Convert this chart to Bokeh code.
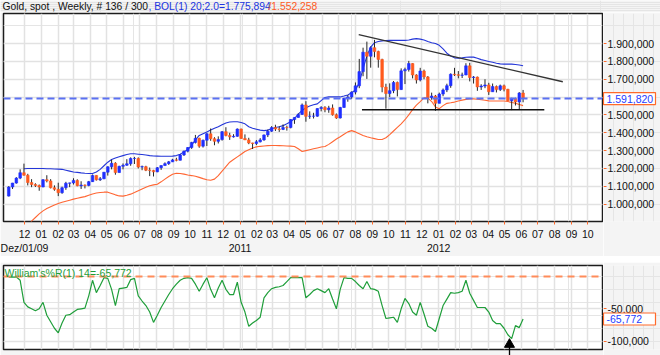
import numpy as np
import pandas as pd
from bokeh.plotting import figure
from bokeh.models import (ColumnDataSource, Range1d, LinearAxis, FixedTicker, Grid,
                          Label, Span)
from bokeh.layouts import column, row
from bokeh.core.properties import value
from bokeh.embed import file_html
from bokeh.resources import INLINE

# ---------------- data ----------------
first_week = "2009-11-02"

opens = [1045, 1096, 1118, 1146, 1176, 1162, 1121, 1110, 1104, 1096,
         1137, 1130, 1092, 1083, 1064, 1092, 1117, 1119, 1133, 1103,
         1107, 1105, 1126, 1161, 1136, 1142, 1179, 1209, 1229, 1177,
         1212, 1218, 1226, 1256, 1256, 1208, 1210, 1190, 1189, 1181,
         1204, 1216, 1227, 1237, 1248, 1246, 1276, 1297, 1317, 1346,
         1369, 1325, 1358, 1394, 1367, 1352, 1362, 1406, 1385, 1377,
         1380, 1421, 1368, 1360, 1343, 1340, 1349, 1360, 1388, 1409,
         1429, 1421, 1419, 1430, 1429, 1474, 1486, 1503, 1556, 1492,
         1493, 1493, 1536, 1542, 1529, 1539, 1501, 1483, 1542, 1594,
         1601, 1628, 1663, 1743, 1852, 1829, 1877, 1856, 1811, 1656,
         1620, 1636, 1682, 1642, 1747, 1755, 1788, 1724, 1696, 1746,
         1713, 1597, 1606, 1565, 1617, 1640, 1664, 1728, 1725, 1722,
         1724, 1775, 1710, 1712, 1657, 1662, 1668, 1630, 1659, 1642,
         1663, 1644, 1579, 1592, 1573, 1623]
highs = [1101, 1119, 1151, 1195, 1227, 1170, 1140, 1117, 1110, 1140,
         1162, 1140, 1105, 1120, 1098, 1125, 1120, 1145, 1139, 1128,
         1110, 1130, 1166, 1162, 1152, 1180, 1212, 1249, 1235, 1215,
         1228, 1252, 1262, 1265, 1262, 1216, 1215, 1205, 1192, 1208,
         1217, 1234, 1242, 1254, 1260, 1280, 1300, 1320, 1349, 1388,
         1372, 1362, 1398, 1424, 1375, 1380, 1410, 1431, 1400, 1392,
         1424, 1423, 1391, 1372, 1344, 1359, 1370, 1390, 1418, 1437,
         1445, 1436, 1447, 1440, 1476, 1487, 1508, 1564, 1577, 1520,
         1512, 1537, 1549, 1549, 1551, 1559, 1508, 1545, 1595, 1611,
         1632, 1682, 1814, 1877, 1911, 1884, 1921, 1860, 1815, 1675,
         1677, 1690, 1687, 1761, 1765, 1803, 1790, 1728, 1764, 1754,
         1718, 1625, 1612, 1625, 1648, 1675, 1733, 1764, 1746, 1737,
         1790, 1792, 1718, 1715, 1672, 1700, 1680, 1676, 1665, 1670,
         1670, 1646, 1596, 1596, 1628, 1640]
lows = [1043, 1085, 1115, 1140, 1160, 1105, 1095, 1096, 1075, 1095,
        1122, 1088, 1075, 1045, 1058, 1080, 1095, 1110, 1100, 1085,
        1088, 1100, 1124, 1132, 1130, 1140, 1160, 1195, 1165, 1176,
        1195, 1215, 1215, 1225, 1200, 1190, 1185, 1157, 1155, 1179,
        1192, 1215, 1220, 1236, 1240, 1245, 1270, 1290, 1310, 1340,
        1316, 1317, 1326, 1355, 1330, 1340, 1356, 1380, 1360, 1373,
        1378, 1366, 1360, 1336, 1309, 1331, 1346, 1355, 1376, 1405,
        1410, 1405, 1415, 1412, 1425, 1450, 1485, 1500, 1462, 1478,
        1480, 1490, 1520, 1515, 1512, 1496, 1478, 1480, 1540, 1574,
        1590, 1615, 1650, 1717, 1702, 1765, 1823, 1765, 1627, 1535,
        1600, 1622, 1604, 1640, 1673, 1743, 1705, 1676, 1688, 1700,
        1565, 1585, 1523, 1565, 1605, 1628, 1652, 1718, 1705, 1707,
        1723, 1688, 1676, 1635, 1640, 1650, 1612, 1630, 1626, 1634,
        1632, 1578, 1527, 1553, 1532, 1571]
closes = [1096, 1118, 1146, 1176, 1162, 1121, 1110, 1104, 1096, 1137,
          1130, 1092, 1083, 1064, 1092, 1117, 1119, 1133, 1103, 1107,
          1105, 1126, 1161, 1136, 1142, 1179, 1209, 1229, 1177, 1212,
          1218, 1226, 1256, 1256, 1208, 1210, 1190, 1189, 1181, 1204,
          1216, 1227, 1237, 1248, 1246, 1276, 1297, 1317, 1346, 1369,
          1325, 1358, 1394, 1367, 1352, 1362, 1406, 1385, 1377, 1380,
          1421, 1368, 1360, 1343, 1340, 1349, 1360, 1388, 1409, 1429,
          1421, 1419, 1430, 1429, 1474, 1486, 1503, 1556, 1492, 1493,
          1493, 1536, 1542, 1529, 1539, 1501, 1483, 1542, 1594, 1601,
          1628, 1663, 1743, 1852, 1829, 1877, 1856, 1811, 1656, 1620,
          1636, 1682, 1642, 1747, 1755, 1788, 1724, 1696, 1746, 1713,
          1597, 1606, 1565, 1617, 1640, 1664, 1728, 1725, 1722, 1724,
          1775, 1710, 1712, 1657, 1662, 1668, 1630, 1659, 1642, 1663,
          1644, 1579, 1592, 1573, 1623, 1591.82]

nan = float("nan")
boll_upper = [nan, nan, nan, nan, 1198, 1200, 1200, 1200, 1200, 1200,
              1198, 1198, 1197, 1196, 1195, 1190, 1185, 1180, 1178, 1175,
              1173, 1172, 1172, 1180, 1195, 1215, 1235, 1250, 1258, 1265,
              1272, 1278, 1282, 1282, 1280, 1278, 1275, 1272, 1270, 1269,
              1268, 1268, 1268, 1269, 1272, 1280, 1293, 1306, 1330, 1360,
              1385, 1395, 1405, 1415, 1425, 1434, 1445, 1455, 1460, 1462,
              1462, 1458, 1450, 1434, 1425, 1420, 1415, 1412, 1415, 1422,
              1430, 1434, 1440, 1450, 1462, 1480, 1505, 1525, 1540, 1550,
              1557, 1562, 1580, 1598, 1601, 1601, 1601, 1601, 1606, 1612,
              1625, 1640, 1680, 1760, 1830, 1880, 1905, 1912, 1915, 1917,
              1918, 1918, 1918, 1918, 1918, 1920, 1925, 1928, 1925, 1920,
              1912, 1905, 1900, 1890, 1870, 1846, 1830, 1820, 1818, 1820,
              1823, 1824, 1824, 1818, 1810, 1805, 1800, 1795, 1790, 1786,
              1785, 1785, 1785, 1783, 1780, 1775.894]
boll_lower = [nan, nan, nan, nan, nan, 860, 905, 925, 945, 962,
              975, 985, 995, 1003, 1010, 1016, 1022, 1028, 1033, 1038,
              1042, 1050, 1057, 1062, 1065, 1067, 1067, 1060, 1052, 1046,
              1045, 1050, 1056, 1065, 1075, 1085, 1095, 1103, 1108, 1111,
              1125, 1140, 1155, 1167, 1173, 1172, 1168, 1163, 1160, 1156,
              1150, 1143, 1137, 1134, 1140, 1160, 1185, 1210, 1235, 1250,
              1265, 1280, 1295, 1305, 1315, 1321, 1324, 1326, 1328, 1329,
              1329, 1328, 1327, 1326, 1325, 1323, 1310, 1295, 1300, 1305,
              1310, 1315, 1320, 1323, 1335, 1350, 1365, 1378, 1392, 1405,
              1412, 1405, 1395, 1385, 1378, 1372, 1367, 1362, 1362, 1372,
              1390, 1410, 1430, 1450, 1473, 1500, 1530, 1555, 1575, 1596,
              1596, 1575, 1545, 1535, 1552, 1565, 1568, 1572, 1578, 1583,
              1587, 1590, 1590, 1588, 1585, 1582, 1579, 1578, 1578, 1578,
              1578, 1575, 1570, 1565, 1558, 1552.258]
williams_r = [-1, -1, -1, -6, -40, -47, -50, -53, -50, -40,
              -60, -70, -80, -87, -72, -60, -59, -55, -51, -50,
              -49, -30, -6, -25, -14, -2, -3, -20, -45, -19,
              -18, -17, -5, -3, -30, -38, -45, -55, -71, -60,
              -48, -38, -28, -19, -12, -6, -3, -2, -3, -12,
              -23, -12, -2, -20, -33, -18, -6, -20, -28, -28,
              -9, -40, -55, -77, -72, -68, -63, -33, -25, -19,
              -17, -16, -14, -8, -2, -2, -2, -2, -33, -28,
              -22, -19, -22, -25, -19, -35, -50, -20, -2, -3,
              -3, -8, -14, -19, -8, -19, -20, -23, -45, -65,
              -64, -63, -71, -50, -34, -42, -55, -60, -40, -58,
              -77, -80, -85, -65, -45, -35, -25, -26, -25, -23,
              -6, -26, -37, -48, -48, -48, -55, -68, -73, -73,
              -80, -90, -96, -76, -79, -65.772]

last_price = 1591.82
last_price_text = "1.591,820"
last_wr = -65.772
last_wr_text = "-65,772"
wr_level = 0

trend_dates = ["2011-08-07", "2012-08-16"]
trend_prices = [1950, 1686]
support_dates = ["2011-08-13", "2012-07-13"]
support_prices = [1529, 1529]
arrow_date = "2012-05-10"
arrow_level = -105

price_ticks = [1000, 1100, 1200, 1300, 1400, 1500, 1600, 1700, 1800, 1900]
price_tick_labels = ["1.000,000", "1.100,000", "1.200,000", "1.300,000", "1.400,000",
                     "1.500,000", "1.600,000", "1.700,000", "1.800,000", "1.900,000"]
wr_ticks = [-50, -100]
wr_tick_labels = ["-50,000", "-100,000"]
month_labels = ["12", "01", "02", "03", "04", "05", "06", "07", "08", "09", "10", "11",
                "12", "01", "02", "03", "04", "05", "06", "07", "08", "09", "10", "11",
                "12", "01", "02", "03", "04", "05", "06", "07", "08", "09", "10"]
year_tick_dates = ["2009-12-01", "2011-01-01", "2012-01-01"]
year_labels = ["Dez/01/09", "2011", "2012"]

header_texts = ["Gold, spot , Weekly, # 136 / 300", ", BOL(1) 20;2.0=1.775,894", "/1.552,258"]
wr_title = "William's%R(1) 14=-65,772"

# ---------------- styling ----------------
FONT = "Liberation Sans"
FS = "10.5px"
BG = "#f4f4f4"
GRID = "#e2e2e2"
ORANGE = "#ff6a2a"
UP = "#1f2fff"
DOWN = "#ff5a1e"
WICK = "#262626"
VALBLUE = "#1f3cff"

W = 660
WL = 603           # width of the plotting part (frame 3..602)
WR = W - WL        # right-hand label strip
HH = 12            # header strip
H1, HS, H2 = 244, 6, 93
TOP1, BOT1 = 1, 34
TOP2, BOT2 = 3, 6

ref = pd.Timestamp("2009-12-01")


def dx(d):
    return int((pd.Timestamp(d) - ref).days)


weeks = pd.date_range(first_week, periods=len(closes), freq="7D")
xw = np.array([(w - ref).days for w in weeks], dtype=float)
month_dates = pd.date_range("2009-12-01", periods=len(month_labels), freq="MS")
mt = [dx(d) for d in month_dates]
yt = [dx(d) for d in year_tick_dates]

X0, X1 = -38.6, 1061.9
x_range = Range1d(X0, X1)
Y0, Y1 = 902.6, 2068.6

o = np.array(opens, float)
c = np.array(closes, float)
src = ColumnDataSource(dict(
    x=xw, h=highs, l=lows,
    top=np.maximum(o, c), bottom=np.minimum(o, c),
    color=[UP if cc >= oo else DOWN for oo, cc in zip(o, c)],
))

base = dict(toolbar_location=None, output_backend="svg", title=None,
            x_axis_location=None, y_axis_location=None)
common = dict(base, background_fill_color="white", border_fill_color=BG,
              outline_line_color="#1c1c1c", outline_line_width=1.5,
              min_border_left=3, min_border_right=1)
strip = dict(base, background_fill_color=BG, border_fill_color=BG, outline_line_color=None,
             min_border_left=0, min_border_right=0)


def style_axis(ax, tick=True, out=3, standoff=2):
    ax.axis_line_color = None
    ax.minor_tick_line_color = None
    ax.major_tick_line_color = ORANGE if tick else None
    ax.major_tick_out = out if tick else 0
    ax.major_tick_in = 0
    ax.major_label_standoff = standoff
    ax.major_label_text_font = FONT
    ax.major_label_text_font_size = FS
    ax.major_label_text_color = "#111111"


# ---------------- header ----------------
h = figure(width=W, height=HH, x_range=Range1d(0, W), y_range=Range1d(HH, 0),
           min_border_top=0, min_border_bottom=0, **strip)
h.text(x=[2, 148, 268], y=[6, 6, 6], text=header_texts,
       text_color=["#111111", "#2033e0", "#ff5a1e"],
       text_font=value(FONT), text_font_size=value("10.3px"), text_baseline="middle")

# ---------------- main price panel ----------------
p = figure(width=WL, height=H1, x_range=x_range, y_range=Range1d(Y0, Y1),
           min_border_top=TOP1, min_border_bottom=BOT1, **common)

p.add_layout(Grid(dimension=0, ticker=FixedTicker(ticks=mt), grid_line_color=GRID, grid_line_width=1.5))
p.add_layout(Grid(dimension=1, ticker=FixedTicker(ticks=price_ticks), grid_line_color=GRID, grid_line_width=1.5))

xa = LinearAxis(ticker=FixedTicker(ticks=mt), major_label_overrides=dict(zip(mt, month_labels)))
style_axis(xa, True, 3, 5)
p.add_layout(xa, "below")
xa2 = LinearAxis(ticker=FixedTicker(ticks=yt), major_label_overrides=dict(zip(yt, year_labels)))
style_axis(xa2, False, 0, 1)
p.add_layout(xa2, "below")

p.add_layout(Span(location=last_price, dimension="width", line_color="#5a70f2",
                  line_dash="7 4", line_width=2))

p.line(xw, boll_upper, line_color="#2436d8", line_width=1.1)
p.line(xw, boll_lower, line_color="#ff6633", line_width=1.1)

p.segment("x", "l", "x", "h", source=src, line_color=WICK, line_width=1)
p.vbar(x="x", width=4.8, top="top", bottom="bottom", fill_color="color",
       line_color="color", line_width=0.6, source=src)

p.line([dx(d) for d in trend_dates], trend_prices, line_color="#333333", line_width=1.3)
p.line([dx(d) for d in support_dates], support_prices, line_color="#111111", line_width=1.5)

# right strip: price axis + current value box (same y scale)
pr = figure(width=WR, height=H1, x_range=Range1d(0, WR), y_range=p.y_range,
            min_border_top=TOP1, min_border_bottom=BOT1, **strip)
yax = LinearAxis(ticker=FixedTicker(ticks=price_ticks),
                 major_label_overrides=dict(zip(price_ticks, price_tick_labels)),
                 fixed_location=0)
style_axis(yax, True, 3, 1)
pr.add_layout(yax, "right")
r1 = pr.rect(x=[26], y=[last_price], width=[52], height=[12], height_units="screen",
             fill_color="white", line_color=ORANGE, line_width=1.2)
r2 = pr.text(x=[3], y=[last_price], text=[last_price_text], text_color=VALBLUE,
             text_font=value(FONT), text_font_size=value(FS), text_baseline="middle")
r1.level = "overlay"
r2.level = "overlay"

# ---------------- separator ----------------
sep = figure(width=W, height=HS, x_range=Range1d(0, W), y_range=Range1d(0, 1),
             min_border_top=0, min_border_bottom=0, **strip)
sep.quad(left=0, right=W, bottom=0, top=1, fill_color="#ebebeb", line_color=None,
         hatch_pattern="dot", hatch_color="#bcbcbc", hatch_scale=3)
sep.scatter(x=[15], y=[0.5], marker="triangle", size=6, fill_color="#d6d6d6", line_color="#8c8c8c")
sep.scatter(x=[29], y=[0.55], marker="inverted_triangle", size=6, fill_color="#6a6a6a", line_color="#6a6a6a")
sep.scatter(x=[648], y=[0.5], marker="square_x", size=6, fill_color="#d0d0d0", line_color="#777777")

# ---------------- Williams %R panel ----------------
p2 = figure(width=WL, height=H2, x_range=x_range, y_range=Range1d(-112.8, 16.8),
            min_border_top=TOP2, min_border_bottom=BOT2, **common)
p2.add_layout(Grid(dimension=0, ticker=FixedTicker(ticks=mt), grid_line_color=GRID, grid_line_width=1.5))
p2.add_layout(Grid(dimension=1, ticker=FixedTicker(ticks=wr_ticks), grid_line_color=GRID, grid_line_width=1.5))

p2.add_layout(Span(location=wr_level, dimension="width", line_color="#ff8c5a",
                   line_dash="7 5", line_width=2))
p2.line(xw, williams_r, line_color="#1f9e3a", line_width=1.2)

p2.add_layout(Label(x=X0, y=16.8, x_offset=1, y_offset=-7, text=wr_title, text_color="#1f9e3a",
                    text_font=FONT, text_font_size=FS, text_baseline="middle"))

ax_x = dx(arrow_date)
p2.scatter(x=[ax_x], y=[arrow_level], marker="triangle", size=10,
           fill_color="black", line_color="black")
stem = LinearAxis(ticker=FixedTicker(ticks=[ax_x]), major_label_overrides={ax_x: ""})
stem.axis_line_color = None
stem.minor_tick_line_color = None
stem.major_tick_line_color = "black"
stem.major_tick_line_width = 1.3
stem.major_tick_out = 6
stem.major_tick_in = 4
stem.major_label_standoff = 0
stem.major_label_text_font_size = "1px"
p2.add_layout(stem, "below")

p2r = figure(width=WR, height=H2, x_range=Range1d(0, WR), y_range=p2.y_range,
             min_border_top=TOP2, min_border_bottom=BOT2, **strip)
wax = LinearAxis(ticker=FixedTicker(ticks=wr_ticks),
                 major_label_overrides=dict(zip(wr_ticks, wr_tick_labels)),
                 fixed_location=0)
style_axis(wax, True, 3, 1)
p2r.add_layout(wax, "right")
r3 = p2r.rect(x=[26], y=[last_wr], width=[52], height=[12], height_units="screen",
              fill_color="white", line_color=ORANGE, line_width=1.2)
r4 = p2r.text(x=[3], y=[last_wr], text=[last_wr_text], text_color=VALBLUE,
              text_font=value(FONT), text_font_size=value(FS), text_baseline="middle")
r3.level = "overlay"
r4.level = "overlay"

layout = column(h, row(p, pr, spacing=0), sep, row(p2, p2r, spacing=0), spacing=0)
open("out.html", "w").write(file_html(layout, INLINE))
